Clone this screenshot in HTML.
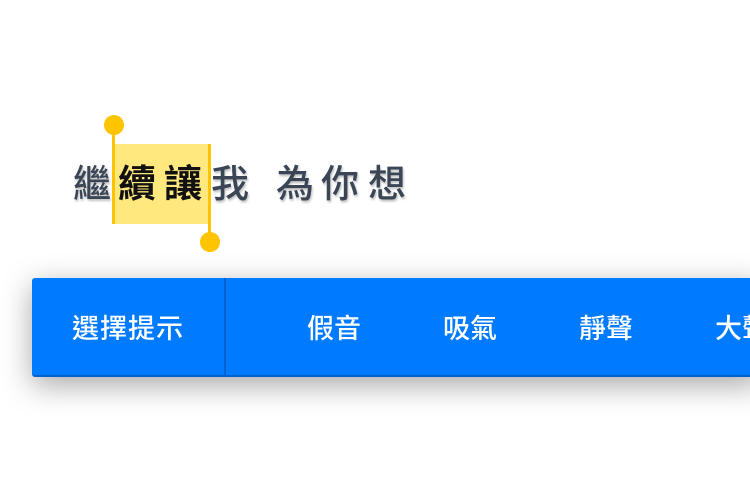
<!DOCTYPE html>
<html><head><meta charset="utf-8"><style>
html,body{margin:0;padding:0;width:750px;height:492px;overflow:hidden;background:#fff;position:relative;font-family:"Liberation Sans","Noto Sans CJK TC",sans-serif}
.c{position:absolute;top:162px;font-size:38px;line-height:46px;color:#3a4556;text-shadow:1px 2px 2px rgba(0,0,0,0.25);font-weight:500}
.h{color:#111;text-shadow:none;font-weight:700}
.b{position:absolute;left:32px;top:278px;width:730px;height:97px;background:#007aff;border-bottom:2px solid #0062cc;border-radius:3px 0 0 3px;box-shadow:0 8px 30px rgba(0,0,0,0.35)}
.t{position:absolute;top:312px;font-size:27px;line-height:34px;color:#fff;font-weight:500;white-space:nowrap}
</style></head><body>
<div style="position:absolute;left:113px;top:144px;width:96px;height:80px;background:#ffe97f"></div>
<div class="c" style="left:73px">繼</div>
<div class="c h" style="left:118px">續</div>
<div class="c h" style="left:164px">讓</div>
<div class="c" style="left:211px">我</div>
<div class="c" style="left:276px">為</div>
<div class="c" style="left:321px">你</div>
<div class="c" style="left:368px">想</div>
<div style="position:absolute;left:112px;top:125px;width:3px;height:99px;background:#ffc400"></div>
<div style="position:absolute;left:104px;top:115px;width:20px;height:20px;border-radius:50%;background:#ffc400"></div>
<div style="position:absolute;left:208px;top:144px;width:3px;height:96px;background:#ffc400"></div>
<div style="position:absolute;left:200px;top:232px;width:20px;height:20px;border-radius:50%;background:#ffc400"></div>
<div class="b"></div>
<div style="position:absolute;left:224px;top:278px;width:2px;height:97px;background:#0062cc"></div>
<div class="t" style="left:72px;letter-spacing:1px">選擇提示</div>
<div class="t" style="left:307px">假音</div>
<div class="t" style="left:443px">吸氣</div>
<div class="t" style="left:579px">靜聲</div>
<div class="t" style="left:715px">大聲</div>
</body></html>
